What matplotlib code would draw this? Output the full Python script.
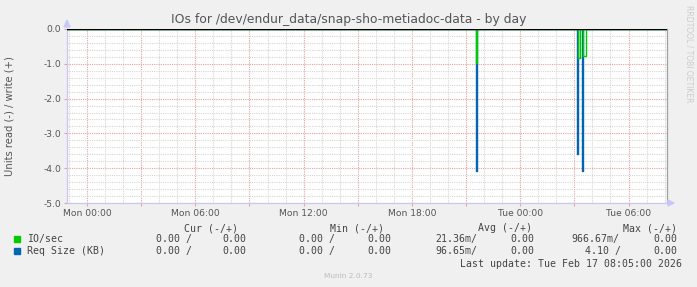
import matplotlib
matplotlib.use("Agg")
import matplotlib.pyplot as plt
from matplotlib.ticker import MultipleLocator, FuncFormatter
from matplotlib.patches import Polygon

# ---------------- data ----------------
title = "IOs for /dev/endur_data/snap-sho-metiadoc-data - by day"
ylabel = "Units read (-) / write (+)"
# hours relative to Mon 00:00
tick_hours = [0, 6, 12, 18, 24, 30]
tick_labels = ["Mon 00:00", "Mon 06:00", "Mon 12:00", "Mon 18:00", "Tue 00:00", "Tue 06:00"]
x_start, x_end = -1.108, 32.13

# IO/sec (read, negative) samples: time (h), value (step-post)
io_t = [-1.108, 21.55, 21.60, 27.22, 27.29, 27.45, 27.55, 27.62, 32.13]
io_v = [0.0, -0.97, 0.0, -0.84, 0.0, -0.78, -0.78, 0.0, 0.0]
# Req Size (KB) samples
rq_t = [-1.108, 21.55, 21.59, 27.16, 27.21, 27.41, 27.50, 32.13]
rq_v = [0.0, -4.08, 0.0, -3.60, 0.0, -4.08, 0.0, 0.0]

legend_rows = [
    ("IO/sec", "#00CC00", ["0.00 /", "0.00", "0.00 /", "0.00", "21.36m/", "0.00", "966.67m/", "0.00"]),
    ("Req Size (KB)", "#0066B3", ["0.00 /", "0.00", "0.00 /", "0.00", "96.65m/", "0.00", "4.10 /", "0.00"]),
]
headers = ["Cur (-/+)", "Min (-/+)", "Avg (-/+)", "Max (-/+)"]
last_update = "Last update: Tue Feb 17 08:05:00 2026"
munin_ver = "Munin 2.0.73"
rrd_text = "RRDTOOL / TOBI OETIKER"

# ---------------- figure ----------------
W, H = 697, 287
fig = plt.figure(figsize=(W / 100, H / 100), dpi=100, facecolor="#F0F0F0")
L, R, T, B = 67, 667, 29, 203
ax = fig.add_axes([L / W, 1 - B / H, (R - L) / W, (B - T) / H])
ax.set_facecolor("white")
ax.set_xlim(x_start, x_end)
ax.set_ylim(-5, 0)

ax.xaxis.set_major_locator(MultipleLocator(3))
ax.xaxis.set_minor_locator(MultipleLocator(1))
ax.yaxis.set_major_locator(MultipleLocator(1))
ax.yaxis.set_minor_locator(MultipleLocator(0.2))

lab_map = dict(zip(tick_hours, tick_labels))
ax.xaxis.set_major_formatter(FuncFormatter(lambda v, p: lab_map.get(int(round(v)), "") if abs(v - round(v)) < 1e-6 else ""))
ax.yaxis.set_major_formatter(FuncFormatter(lambda v, p: ("%.1f" % v).replace("\u2212", "-")))

ax.grid(which="minor", color="#D6D6D6", linestyle=(0, (1, 1)), linewidth=0.8)
ax.grid(which="major", color="#E8A0A0", linestyle=(0, (1, 1)), linewidth=0.8)
ax.set_axisbelow(True)

ax.tick_params(which="major", length=2, width=0.8, color="#E8A0A0", labelsize=6.6,
               labelcolor="#555555", pad=2)
ax.tick_params(which="minor", length=0)

ax.spines["top"].set_visible(False)
ax.spines["left"].set_color("#C8C8F0")
ax.spines["bottom"].set_color("#C8C8F0")
ax.spines["right"].set_color("#A0A0A0")
for s in ax.spines.values():
    s.set_linewidth(0.9)

ax.step(rq_t, rq_v, where="post", color="#0066B3", linewidth=1.0, zorder=3)
ax.step(io_t, io_v, where="post", color="#00CC00", linewidth=1.0, zorder=4)
ax.axhline(0, color="black", linewidth=1.0, zorder=5)

# axis arrows
fig.patches.append(Polygon([[(L - 3) / W, 1 - 27 / H], [(L + 3) / W, 1 - 27 / H], [L / W, 1 - 20 / H]],
                           closed=True, transform=fig.transFigure, color="#C8C8F8", zorder=10))
fig.patches.append(Polygon([[(R + 1) / W, 1 - (B - 3) / H], [(R + 1) / W, 1 - (B + 3) / H], [(R + 7) / W, 1 - B / H]],
                           closed=True, transform=fig.transFigure, color="#C8C8F8", zorder=10))

# texts
fig.text(348.5 / W, 1 - 19 / H, title, ha="center", va="center", fontsize=8.9, color="#555555")
fig.text(10 / W, 1 - 116 / H, ylabel, ha="center", va="center", rotation=90, fontsize=7.2, color="#555555")
fig.text(689 / W, 1 - 5 / H, rrd_text, ha="center", va="top", rotation=270, fontsize=5.5, color="#CCCCCC")

mono = "DejaVu Sans Mono"
fs = 7.1
tc = "#444444"
hdr_x = [184.3, 330, 477.7, 622.7]
for hx, ht in zip(hdr_x, headers):
    fig.text(hx / W, 1 - 228.3 / H, ht, family=mono, fontsize=fs, color=tc, va="center", ha="left")

col_x = [[156, 222.7, 299.3, 367.3, 435, 510, 571.7, 653.3],
         [156, 222.7, 299.3, 367.3, 435, 510, 585, 653.3]]
row_y = [239.3, 251]
for (name, col, vals), ry, cxs in zip(legend_rows, row_y, col_x):
    fig.patches.append(Polygon([[14 / W, 1 - (ry - 3) / H], [20 / W, 1 - (ry - 3) / H],
                                [20 / W, 1 - (ry + 3) / H], [14 / W, 1 - (ry + 3) / H]],
                               closed=True, transform=fig.transFigure, color=col))
    fig.text(26.7 / W, 1 - ry / H, name, family=mono, fontsize=fs, color=tc, va="center", ha="left")
    for cx, v in zip(cxs, vals):
        fig.text(cx / W, 1 - ry / H, v, family=mono, fontsize=fs, color=tc, va="center", ha="left")

fig.text(682.3 / W, 1 - 263.7 / H, last_update, family=mono, fontsize=fs, color=tc, va="center", ha="right")
fig.text(348 / W, 1 - 276 / H, munin_ver, ha="center", va="center", fontsize=5.3, color="#BBBBBB")

fig.savefig("out.png", dpi=100, facecolor=fig.get_facecolor())
